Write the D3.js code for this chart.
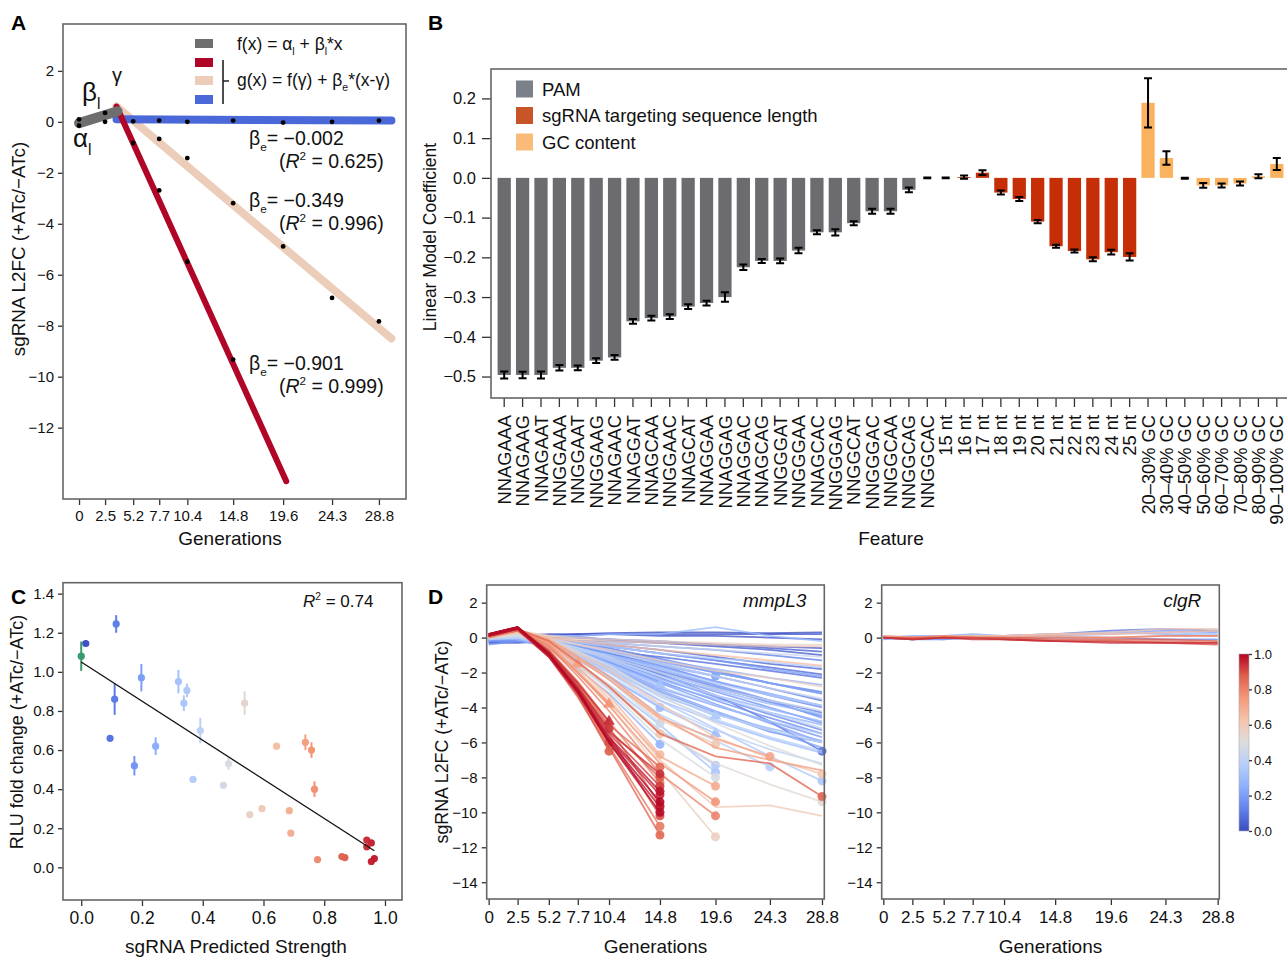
<!DOCTYPE html>
<html><head><meta charset="utf-8">
<script src="https://cdn.jsdelivr.net/npm/d3@7"></script>
<style>
body{margin:0;background:#fff}
svg{font-family:"Liberation Sans",Arial,sans-serif}
</style></head>
<body><svg id="fig" width="1287" height="957"></svg>
<script>
// ---- data ----
const generations = [0, 2.5, 5.2, 7.7, 10.4, 14.8, 19.6, 24.3, 28.8]

// A: example sgRNA fits
const fitDots = [[0,0.1],[0,-0.15],[2.5,0.35],[2.5,0.0],[5.2,0.02],[5.2,-0.83],[7.7,0.05],[7.7,-0.67],[7.7,-2.69],
  [10.4,0.0],[10.4,-1.42],[10.4,-5.49],[14.8,0.05],[14.8,-3.19],[14.8,-9.33],[19.6,-0.03],[19.6,-4.89],
  [24.3,0.0],[24.3,-6.91],[28.8,0.05],[28.8,-7.83]]
const lagFit = [[0,-0.05],[3.7,0.42]]
const strongFit = [[3.6,0.6],[19.9,-14.1]]
const mediumFit = [[3.6,0.6],[30.0,-8.5]]
const weakFit = [[3.6,0.1],[30.0,0.05]]
const fitSlopes = ["−0.002", "−0.349", "−0.901"]
const fitR2 = ["0.625", "0.996", "0.999"]

// B: linear model coefficients
const features = ["NNAGAAA","NNAGAAG","NNAGAAT","NNGGAAA","NNGGAAT","NNGGAAG","NNAGAAC","NNAGGAT","NNAGCAA","NNGGAAC",
  "NNAGCAT","NNAGGAA","NNAGGAG","NNAGGAC","NNAGCAG","NNGGGAT","NNGGGAA","NNAGCAC","NNGGGAG","NNGGCAT","NNGGGAC",
  "NNGGCAA","NNGGCAG","NNGGCAC","15 nt","16 nt","17 nt","18 nt","19 nt","20 nt","21 nt","22 nt","23 nt","24 nt","25 nt",
  "20–30% GC","30–40% GC","40–50% GC","50–60% GC","60–70% GC","70–80% GC","80–90% GC","90–100% GC"]
const coefficients = [-0.496,-0.496,-0.496,-0.478,-0.478,-0.46,-0.452,-0.361,-0.353,-0.349,-0.324,-0.315,-0.30,-0.225,
  -0.209,-0.209,-0.183,-0.137,-0.137,-0.114,-0.084,-0.084,-0.03,0.0,0.0,0.002,0.013,-0.037,-0.053,-0.11,-0.172,-0.184,
  -0.205,-0.187,-0.199,0.189,0.05,-0.001,-0.019,-0.019,-0.014,0.004,0.035]
const coefErrors = [0.009,0.008,0.009,0.007,0.006,0.006,0.006,0.006,0.006,0.006,0.006,0.006,0.012,0.007,0.005,0.006,0.007,
  0.005,0.008,0.005,0.006,0.006,0.006,0.001,0.001,0.004,0.006,0.005,0.005,0.004,0.004,0.004,0.005,0.006,0.009,
  0.062,0.017,0.001,0.006,0.005,0.005,0.005,0.015]
const featureGroups = ["PAM", "sgRNA targeting sequence length", "GC content"]

// C: luciferase validation
const predictedStrength = [0.0,0.015,0.115,0.11,0.095,0.198,0.175,0.245,0.32,0.338,0.348,0.368,0.392,0.468,0.485,0.538,
  0.555,0.595,0.643,0.685,0.69,0.738,0.758,0.768,0.778,0.858,0.868,0.94,0.955,0.94,0.955,0.965]
const rluFold = [1.08,1.145,1.245,0.86,0.66,0.97,0.52,0.62,0.95,0.84,0.905,0.45,0.70,0.42,0.53,0.84,
  0.27,0.30,0.62,0.29,0.175,0.64,0.60,0.40,0.04,0.055,0.05,0.14,0.125,0.105,0.03,0.045]
const rluError = [0.075,0,0.045,0.08,0,0.07,0.05,0.045,0.06,0.04,0.035,0,0.065,0,0.03,0.06,
  0,0,0,0,0,0.04,0.04,0.04,0,0,0,0,0,0,0,0]
const rluFitLine = [[0.0,1.05],[0.965,0.085]]

// D: time courses [predicted strength, end marker (0 none, 1 circle, 2 triangle), L2FC at each generation]
const mmpL3Guides = [
  [0.01,0, 0.0,0.0,0.1,0.2,0.25,0.3,0.3,0.25,0.3],
  [0.03,0, -0.1,-0.1,0.0,0.1,0.2,0.2,0.2,0.2,0.2],
  [0.02,0, 0.1,0.1,0.2,0.2,0.2,0.1,0.1,0.0,-0.1],
  [0.03,0, -0.3,-0.3,-0.2,-0.2,-0.2,-0.3,-0.4,-0.5,-0.6],
  [0.04,0, 0.0,0.0,0.1,0.0,-0.1,-0.3,-0.5,-0.7,-1.0],
  [0.05,0, 0.1,0.0,0.0,0.0,-0.1,-0.2,-0.4,-0.6,-0.8],
  [0.06,0, -0.2,-0.1,-0.1,-0.2,-0.4,-0.7,-1.1,-1.5,-1.8],
  [0.07,0, -0.3,-0.2,-0.2,-0.3,-0.5,-0.9,-1.3,-1.7,-2.1],
  [0.08,0, 0.0,-0.2,-0.3,-0.5,-0.8,-1.1,-1.5,-1.9,-2.3],
  [0.09,0, 0.0,-0.1,-0.2,-0.4,-0.7,-1.3,-2.0,-2.6,-3.2],
  [0.1,0, 0.0,-0.1,-0.2,-0.5,-0.9,-1.5,-2.2,-2.9,-3.6],
  [0.11,0, -0.2,-0.2,-0.4,-0.8,-1.2,-2.0,-2.9,-3.6,-4.3],
  [0.12,0, -0.1,0.0,-0.1,-0.3,-0.6,-1.2,-1.9,-2.6,-3.1],
  [0.13,0, 0.1,0.0,-0.1,-0.4,-0.8,-1.6,-2.5,-3.3,-4.0],
  [0.14,0, 0.0,-0.1,-0.3,-0.6,-1.0,-1.9,-2.8,-3.7,-4.5],
  [0.15,0, -0.1,-0.1,-0.3,-0.7,-1.2,-2.3,-3.4,-4.4,-5.3],
  [0.16,0, -0.2,-0.2,-0.4,-0.8,-1.4,-2.5,-3.6,-4.6,-5.5],
  [0.08,1, 0.0,0.1,-0.1,-0.5,-1.0,-2.1,-3.3,-4.8,-6.5],
  [0.17,0, 0.0,0.0,-0.2,-0.5,-0.9,-1.8,-2.7,-3.6,-4.6],
  [0.18,0, 0.1,0.0,-0.2,-0.6,-1.1,-2.1,-3.1,-4.0,-4.9],
  [0.19,0, -0.2,-0.1,-0.3,-0.9,-1.6,-2.9,-3.9,-4.8,-5.7],
  [0.2,0, 0.0,0.0,-0.1,-0.3,-0.5,-0.9,-1.3,-1.8,-2.2],
  [0.2,0, 0.0,-0.1,-0.3,-0.8,-1.4,-2.6,-3.8,-4.9,-6.0],
  [0.21,0, -0.1,-0.1,-0.4,-1.0,-1.7,-3.0,-4.2,-5.3,-6.3],
  [0.22,1, 0.0,0.0,-0.2,-0.6,-1.0,-1.6,-2.2,null,null],
  [0.23,0, 0.0,0.0,-0.2,-0.5,-0.8,-1.4,-2.0,-2.6,-3.2],
  [0.24,0, -0.1,-0.1,-0.3,-0.6,-1.0,-1.7,-2.5,-3.2,-3.9],
  [0.25,0, 0.0,0.0,-0.1,-0.4,-0.7,-1.3,-1.8,-2.3,-2.7],
  [0.26,0, 0.0,0.0,-0.3,-0.9,-1.5,-2.6,-3.5,-4.3,-5.0],
  [0.27,0, -0.1,0.0,-0.3,-0.8,-1.3,-2.4,-3.3,-4.1,-4.8],
  [0.12,0, 0.1,0.1,0.0,-0.2,-0.3,-0.5,-0.7,-1.0,-1.3],
  [0.18,0, -0.4,-0.2,-0.4,-1.0,-1.7,-3.1,-4.3,-5.4,-6.0],
  [0.28,0, 0.0,-0.1,-0.4,-1.1,-1.9,-3.3,-4.4,-5.2,-5.9],
  [0.29,0, 0.0,0.1,-0.2,-0.7,-1.2,-2.2,-3.0,-3.8,-4.4],
  [0.3,0, 0.0,0.0,0.1,0.1,0.2,0.2,0.6,0.1,-0.2],
  [0.31,0, 0.0,0.0,-0.4,-1.2,-2.0,-3.6,-4.8,-5.8,-6.6],
  [0.33,0, 0.1,0.1,-0.2,-0.8,-1.5,-2.8,-3.9,-4.8,-5.5],
  [0.35,0, 0.0,0.1,-0.2,-0.6,-1.0,-1.8,-2.6,-3.3,-3.9],
  [0.36,0, 0.0,0.0,-0.1,-0.3,-0.5,-0.9,-1.2,-1.4,-1.7],
  [0.37,0, 0.0,0.0,-0.3,-1.0,-1.8,-3.4,-4.7,-5.7,-6.5],
  [0.39,0, 0.0,0.1,-0.3,-1.1,-2.0,-3.9,-5.3,-6.4,-7.2],
  [0.41,0, 0.0,0.1,-0.2,-0.9,-1.7,-3.2,-4.4,-5.3,-6.0],
  [0.43,0, 0.1,0.2,-0.1,-0.6,-1.1,-2.0,-2.9,-3.6,-4.2],
  [0.44,0, 0.0,0.1,0.0,-0.2,-0.3,-0.5,-0.7,-0.9,-1.1],
  [0.3,1, 0.1,0.0,-0.3,-1.2,-2.2,-4.0,null,null,null],
  [0.32,2, 0.0,0.0,-0.2,-0.9,-1.6,-2.7,null,null,null],
  [0.27,1, 0.0,-0.1,-0.6,-1.8,-3.2,-6.1,null,null,null],
  [0.34,2, 0.0,0.0,-0.3,-1.0,-1.8,-3.2,-4.5,null,null],
  [0.3,2, -0.1,0.0,-0.4,-1.3,-2.3,-4.0,-5.5,null,null],
  [0.36,1, 0.0,0.0,-0.5,-1.6,-2.9,-5.3,-7.3,null,null],
  [0.33,1, 0.0,0.1,-0.4,-1.5,-2.7,-5.0,-7.7,null,null],
  [0.38,1, 0.1,0.1,-0.3,-1.2,-2.3,-4.4,-5.9,-7.4,null],
  [0.35,1, 0.0,0.0,-0.3,-1.0,-1.9,-3.6,-5.2,-6.8,-8.2],
  [0.4,0, -0.1,0.0,-0.2,-0.7,-1.2,-2.2,-3.3,-4.3,-5.2],
  [0.42,0, 0.0,0.1,-0.1,-0.4,-0.8,-1.5,-2.2,-2.9,-3.5],
  [0.45,1, 0.0,0.2,-0.2,-1.2,-2.4,-4.9,null,null,null],
  [0.48,1, 0.0,0.1,-0.4,-1.6,-3.0,-5.8,-8.0,null,null],
  [0.5,0, 0.0,0.2,-0.1,-0.8,-1.6,-3.3,-4.9,-6.2,-7.3],
  [0.52,1, 0.1,0.3,-0.2,-1.4,-2.7,-5.4,-7.2,-8.4,-9.4],
  [0.55,0, 0.1,0.3,0.1,0.0,-0.1,-0.2,-0.3,-0.4,-0.4],
  [0.6,0, 0.2,0.4,0.1,-0.1,-0.2,-0.3,-0.4,-0.5,-0.5],
  [0.64,0, 0.1,0.3,0.0,-0.2,-0.4,-0.7,-1.0,-1.3,-1.6],
  [0.58,0, 0.0,0.3,0.0,-0.4,-0.7,-1.3,-1.9,-2.3,-2.8],
  [0.62,1, 0.0,0.3,-0.3,-1.5,-2.8,-5.5,null,null,null],
  [0.66,1, 0.1,0.4,-0.3,-1.7,-3.3,-6.7,null,null,null],
  [0.6,1, 0.0,0.3,-0.2,-1.2,-2.4,-4.7,-6.1,null,null],
  [0.7,1, 0.1,0.4,-0.4,-1.9,-3.7,-6.8,-8.5,null,null],
  [0.76,1, 0.1,0.4,-0.4,-2.0,-3.9,-7.2,-9.4,null,null],
  [0.8,1, 0.1,0.5,-0.5,-2.2,-4.2,-7.8,-10.2,null,null],
  [0.57,1, 0.0,0.4,-0.4,-2.0,-3.8,-7.6,-11.4,null,null],
  [0.6,0, 0.0,0.3,-0.3,-1.7,-3.5,-7.0,-9.7,-9.6,-10.2],
  [0.72,1, 0.1,0.4,-0.2,-1.2,-2.4,-4.6,-5.8,-6.8,null],
  [0.86,1, 0.1,0.5,-0.2,-1.4,-2.8,-5.5,-6.8,-7.2,-9.1],
  [0.62,1, 0.0,0.3,-0.1,-0.9,-1.8,-3.8,-5.7,-6.9,-7.8],
  [0.74,0, 0.1,0.4,-0.1,-1.1,-2.2,-4.5,-6.3,-7.0,-7.6],
  [0.74,2, 0.1,0.5,-0.3,-1.5,null,null,null,null,null],
  [0.76,2, 0.1,0.5,-0.6,-2.0,-3.8,null,null,null,null],
  [0.95,2, 0.2,0.6,-0.8,-2.6,-4.8,null,null,null,null],
  [0.93,1, 0.1,0.5,-0.9,-2.9,-5.2,null,null,null,null],
  [0.9,1, 0.1,0.5,-1.0,-3.1,-6.0,null,null,null,null],
  [0.88,1, 0.1,0.5,-1.1,-3.3,-6.5,null,null,null,null],
  [0.85,1, 0.2,0.5,-0.7,-2.6,-5.0,-7.4,null,null,null],
  [0.88,1, 0.1,0.6,-0.8,-2.8,-5.3,-8.0,null,null,null],
  [0.92,1, 0.2,0.6,-0.9,-2.9,-5.5,-8.5,null,null,null],
  [0.95,1, 0.1,0.5,-1.0,-3.1,-5.8,-9.0,null,null,null],
  [1.0,1, 0.2,0.6,-0.9,-3.0,-5.9,-9.4,null,null,null],
  [0.97,1, 0.1,0.5,-1.1,-3.2,-6.0,-9.7,null,null,null],
  [0.9,1, 0.2,0.5,-0.8,-2.9,-5.6,-10.2,null,null,null],
  [0.82,1, 0.1,0.5,-1.0,-3.2,-6.2,-10.8,null,null,null],
  [0.86,1, 0.1,0.4,-1.1,-3.4,-6.3,-11.3,null,null,null],
  [0.94,1, 0.2,0.6,-0.9,-2.8,-5.4,-7.8,null,null,null],
  [0.98,1, 0.2,0.6,-1.0,-3.0,-5.7,-8.8,null,null,null],
  [0.99,1, 0.1,0.5,-1.0,-3.1,-6.0,-10.0,null,null,null],
  [0.8,1, 0.1,0.5,-0.7,-2.5,-4.8,-8.3,null,null,null],
  [0.84,1, 0.0,0.4,-0.8,-2.7,-5.1,-9.6,null,null,null]
]
const clgRGuides = [
  [0.1,0, 0.0,-0.1,0.0,0.1,0.1,0.2,0.4,0.5,0.4],
  [0.2,0, -0.1,0.0,-0.1,0.1,0.1,0.2,0.3,0.4,0.3],
  [0.3,0, 0.1,0.0,0.1,0.1,0.0,0.1,0.2,0.3,0.2],
  [0.25,0, 0.0,0.1,0.1,0.2,0.1,0.1,0.3,0.2,0.1],
  [0.15,0, 0.0,-0.1,-0.1,0.0,0.0,0.0,0.0,-0.1,-0.1],
  [0.6,0, 0.1,0.0,0.0,0.1,0.1,0.2,0.3,0.5,0.5],
  [0.65,0, 0.0,0.0,0.1,0.1,0.1,0.2,0.2,0.3,0.4],
  [0.7,0, 0.1,0.0,0.0,0.0,0.0,0.1,0.0,0.1,0.1],
  [0.8,0, 0.0,0.0,0.1,0.0,0.0,0.0,0.0,0.1,0.1],
  [0.88,0, 0.0,0.0,0.0,0.0,0.0,-0.1,-0.1,-0.1,-0.2],
  [0.85,0, 0.0,-0.1,0.0,0.0,-0.1,-0.2,-0.2,-0.2,-0.3],
  [0.9,0, 0.0,-0.1,0.0,0.0,-0.1,-0.2,-0.2,-0.3,-0.4],
  [0.95,0, 0.0,-0.1,0.0,-0.1,-0.1,-0.2,-0.3,-0.3,-0.3]
]

// ---- styles ----
const coolwarmStops = ["#3b4cc0","#6282ea","#8db0fe","#b7cff9","#dddddd","#f5c4ac","#f49a7b","#de604d","#b40426"]
const coolwarm = d3.scaleLinear().domain(d3.range(9).map(i => i / 8)).range(coolwarmStops).clamp(true)
const groupColors = ["#6b6b70", "#c52e06", "#fbb25e"]
const legendColors = ["#7b818b", "#c85528", "#fbbb78"]
const frameColor = "#666"

const svg = d3.select("#fig")

function rich(sel, x, y, size, parts) {
  const t = sel.append("text").attr("x", x).attr("y", y).attr("font-size", size).attr("fill", "#111")
  let shift = 0
  parts.forEach(([s, k]) => {
    const target = k === "sub" ? size * 0.3 : k === "sup" ? -size * 0.4 : 0
    const sp = t.append("tspan").text(s).attr("dy", target - shift)
    if (k === "sub" || k === "sup") sp.attr("font-size", size * 0.6)
    if (k === "i") sp.attr("font-style", "italic")
    shift = target
  })
  return t
}

function styleAxis(g, size) {
  g.select(".domain").remove()
  g.selectAll(".tick line").attr("stroke", "#333").attr("stroke-width", 1.3)
  g.selectAll(".tick text").attr("font-size", size).attr("fill", "#111").attr("font-family", "Liberation Sans, Arial, sans-serif")
}

function frame(x0, y0, x1, y1) {
  svg.append("rect").attr("x", x0).attr("y", y0).attr("width", x1 - x0).attr("height", y1 - y0)
    .attr("fill", "none").attr("stroke", frameColor).attr("stroke-width", 1.6)
}

function panelLetter(t, x, y) {
  svg.append("text").attr("x", x).attr("y", y).attr("font-size", 21).attr("font-weight", "bold").text(t)
}

function yLabel(t, x, y, size) {
  svg.append("text").attr("transform", `translate(${x},${y}) rotate(-90)`).attr("text-anchor", "middle")
    .attr("font-size", size).attr("dy", "0.35em").attr("fill", "#111").text(t)
}

function xLabel(t, x, y, size) {
  svg.append("text").attr("x", x).attr("y", y).attr("text-anchor", "middle").attr("font-size", size).attr("fill", "#111").text(t)
}

// ---- panel A ----
function drawPanelA() {
  const x = d3.scaleLinear().domain([-1.54, 31.4]).range([63, 406])
  const y = d3.scaleLinear().domain([-14.8, 3.84]).range([499, 24])
  const g = svg.append("g")
  const line = d3.line().x(d => x(d[0])).y(d => y(d[1]))

  const fits = [[mediumFit, "#ebcdb9", 8], [weakFit, "#4a68d8", 8], [strongFit, "#b00628", 6], [lagFit, "#6e6e6e", 10]]
  fits.forEach(([pts, c, w]) => {
    g.append("path").attr("d", line(pts)).attr("stroke", c).attr("stroke-width", w)
      .attr("stroke-linecap", "round").attr("fill", "none")
  })
  g.selectAll("circle.dot").data(fitDots).enter().append("circle")
    .attr("cx", d => x(d[0])).attr("cy", d => y(d[1])).attr("r", 2.4).attr("fill", "#000")

  frame(63, 24, 406, 499)
  g.append("g").attr("transform", "translate(63,0)")
    .call(d3.axisLeft(y).tickValues([2, 0, -2, -4, -6, -8, -10, -12]).tickSize(5).tickPadding(4))
    .call(a => styleAxis(a, 15))
  g.append("g").attr("transform", "translate(0,499)")
    .call(d3.axisBottom(x).tickValues(generations).tickFormat(d => String(d)).tickSize(6).tickPadding(5))
    .call(a => styleAxis(a, 15))

  // legend
  const fitColors = ["#6e6e6e", "#b00628", "#ebcdb9", "#4a68d8"]
  fitColors.forEach((c, i) => {
    g.append("rect").attr("x", 195).attr("y", [39, 58, 76, 95][i]).attr("width", 18).attr("height", 9).attr("fill", c)
  })
  g.append("path").attr("d", "M223,60V104M223,81H229").attr("stroke", "#222").attr("stroke-width", 1.6)
  rich(g, 237, 50, 17.5, [["f(x) = α", "n"], ["l", "sub"], [" + β", "n"], ["l", "sub"], ["*x", "n"]])
  rich(g, 237, 86, 17.5, [["g(x) = f(γ) + β", "n"], ["e", "sub"], ["*(x-γ)", "n"]])

  rich(g, 82, 101, 26, [["β", "n"], ["l", "sub"]])
  rich(g, 112, 82, 20, [["γ", "n"]])
  rich(g, 73, 147, 26, [["α", "n"], ["l", "sub"]])

  const baseY = [145, 207, 370]
  fitSlopes.forEach((s, i) => {
    rich(g, 249, baseY[i], 19.5, [["β", "n"], ["e", "sub"], ["= " + s, "n"]])
    rich(g, 279, baseY[i] + 23, 19.5, [["(", "n"], ["R", "i"], ["2", "sup"], [" = " + fitR2[i] + ")", "n"]])
  })

  yLabel("sgRNA L2FC (+ATc/−ATc)", 18, 249, 18.8)
  xLabel("Generations", 230, 545, 19)
  panelLetter("A", 11, 30)
}

// ---- panel B ----
function drawPanelB() {
  const x = d3.scaleBand().domain(features).range([495, 1286]).paddingInner(0.28).paddingOuter(0.14)
  const y = d3.scaleLinear().domain([-0.554, 0.274]).range([398, 69])
  const g = svg.append("g")
  const groupOf = f => f.endsWith("% GC") ? 2 : f.endsWith(" nt") ? 1 : 0
  const rows = features.map((f, i) => ({ f, v: coefficients[i], e: coefErrors[i], grp: groupOf(f) }))

  g.selectAll("rect.bar").data(rows).enter().append("rect")
    .attr("x", d => x(d.f)).attr("width", x.bandwidth())
    .attr("y", d => y(Math.max(0, d.v))).attr("height", d => Math.abs(y(d.v) - y(0)))
    .attr("fill", d => groupColors[d.grp])

  const cap = 4
  const eb = g.selectAll("g.err").data(rows).enter().append("g")
    .attr("transform", d => `translate(${x(d.f) + x.bandwidth() / 2},0)`)
  eb.append("path").attr("d", d => {
    const a = y(d.v - d.e), b = y(d.v + d.e)
    return `M0,${a}V${b}M${-cap},${a}H${cap}M${-cap},${b}H${cap}`
  }).attr("stroke", "#000").attr("stroke-width", 2).attr("fill", "none")

  svg.append("rect").attr("x", 491).attr("y", 69).attr("width", 810).attr("height", 329)
    .attr("fill", "none").attr("stroke", frameColor).attr("stroke-width", 1.6)

  g.append("g").attr("transform", "translate(491,0)")
    .call(d3.axisLeft(y).tickValues([0.2, 0.1, 0.0, -0.1, -0.2, -0.3, -0.4, -0.5]).tickFormat(d3.format(".1f")).tickSize(9).tickPadding(6))
    .call(a => styleAxis(a, 16.5))
  g.append("g").attr("transform", "translate(0,398)")
    .call(d3.axisBottom(x).tickSize(9))
    .call(a => styleAxis(a, 18.3))
    .call(a => a.selectAll(".tick text").attr("transform", "rotate(-90)").attr("text-anchor", "end")
      .attr("x", -17).attr("y", 0).attr("dy", "0.36em"))

  featureGroups.forEach((name, i) => {
    g.append("rect").attr("x", 516).attr("y", 80.5 + i * 26.5).attr("width", 17).attr("height", 17)
      .attr("fill", legendColors[i])
    g.append("text").attr("x", 542).attr("y", 95.5 + i * 26.5).attr("font-size", 18.5).attr("fill", "#111").text(name)
  })

  yLabel("Linear Model Coefficient", 430, 237, 17.5)
  xLabel("Feature", 891, 545, 19)
  panelLetter("B", 428, 30)
}

// ---- panel C ----
function drawPanelC() {
  const x = d3.scaleLinear().domain([-0.06, 1.056]).range([63, 402])
  const y = d3.scaleLinear().domain([-0.167, 1.456]).range([900, 582.7])
  const g = svg.append("g")
  const pts = predictedStrength.map((s, i) => ({ s, v: rluFold[i], e: rluError[i], c: i === 0 ? "#3a9a6c" : coolwarm(s) }))

  g.selectAll("line.err").data(pts.filter(d => d.e > 0)).enter().append("line")
    .attr("x1", d => x(d.s)).attr("x2", d => x(d.s)).attr("y1", d => y(d.v - d.e)).attr("y2", d => y(d.v + d.e))
    .attr("stroke", d => d.c).attr("stroke-width", 2)
  g.selectAll("circle").data(pts).enter().append("circle")
    .attr("cx", d => x(d.s)).attr("cy", d => y(d.v)).attr("r", 3.6).attr("fill", d => d.c)
  g.append("path").attr("d", d3.line().x(d => x(d[0])).y(d => y(d[1]))(rluFitLine))
    .attr("stroke", "#111").attr("stroke-width", 1.3).attr("fill", "none")

  frame(63, 582.7, 402, 900)
  g.append("g").attr("transform", "translate(63,0)")
    .call(d3.axisLeft(y).tickValues([0, 0.2, 0.4, 0.6, 0.8, 1.0, 1.2, 1.4]).tickFormat(d3.format(".1f")).tickSize(5).tickPadding(4))
    .call(a => styleAxis(a, 15))
  g.append("g").attr("transform", "translate(0,900)")
    .call(d3.axisBottom(x).tickValues([0, 0.2, 0.4, 0.6, 0.8, 1.0]).tickFormat(d3.format(".1f")).tickSize(6).tickPadding(6))
    .call(a => styleAxis(a, 17.5))

  rich(g, 303, 607, 17, [["R", "i"], ["2", "sup"], [" = 0.74", "n"]])
  yLabel("RLU fold change (+ATc/−ATc)", 17, 732, 18)
  xLabel("sgRNA Predicted Strength", 236, 953, 19)
  panelLetter("C", 11, 604)
}

// ---- panel D ----
function drawTimecourse(guides, x0, x1, domainX, gene, showYLabel) {
  const x = d3.scaleLinear().domain(domainX).range([x0, x1])
  const y = d3.scaleLinear().domain([-14.96, 3.01]).range([899, 585])
  const g = svg.append("g")
  const sorted = guides.slice().sort((a, b) => a[0] - b[0])
  const line = d3.line().defined(d => d[1] != null).x(d => x(d[0])).y(d => y(d[1]))

  sorted.forEach(row => {
    const s = row[0], marker = row[1]
    const pts = generations.map((t, i) => [t, row[i + 2]])
    const c = coolwarm(s)
    g.append("path").attr("d", line(pts)).attr("stroke", c).attr("stroke-width", 1.8)
      .attr("stroke-opacity", 0.78).attr("fill", "none")
    if (marker) {
      const last = pts.filter(p => p[1] != null).pop()
      const sym = d3.symbol().type(marker === 2 ? d3.symbolTriangle : d3.symbolCircle).size(marker === 2 ? 60 : 64)
      g.append("path").attr("d", sym()).attr("transform", `translate(${x(last[0])},${y(last[1])})`)
        .attr("fill", c).attr("fill-opacity", 0.9)
    }
  })

  frame(x0, 585, x1, 899)
  g.append("g").attr("transform", `translate(${x0},0)`)
    .call(d3.axisLeft(y).tickValues([2, 0, -2, -4, -6, -8, -10, -12, -14]).tickSize(5).tickPadding(4))
    .call(a => styleAxis(a, 15))
  g.append("g").attr("transform", "translate(0,899)")
    .call(d3.axisBottom(x).tickValues(generations).tickFormat(d => String(d)).tickSize(6).tickPadding(6))
    .call(a => styleAxis(a, 17))

  g.append("text").attr("x", x1 - 18).attr("y", 607).attr("text-anchor", "end").attr("font-size", 19)
    .attr("font-style", "italic").attr("fill", "#111").text(gene)
  xLabel("Generations", (x0 + x1) / 2, 953, 19)
  if (showYLabel) yLabel("sgRNA L2FC (+ATc/−ATc)", 442, 742, 17.8)
}

function drawColorbar() {
  const defs = svg.append("defs")
  const grad = defs.append("linearGradient").attr("id", "cw").attr("x1", 0).attr("y1", 1).attr("x2", 0).attr("y2", 0)
  coolwarmStops.forEach((c, i) => grad.append("stop").attr("offset", i / 8).attr("stop-color", c))
  svg.append("rect").attr("x", 1239).attr("y", 654).attr("width", 10).attr("height", 177)
    .attr("fill", "url(#cw)").attr("stroke", "#aaa").attr("stroke-width", 0.6)
  const s = d3.scaleLinear().domain([0, 1]).range([831, 654])
  svg.append("g").attr("transform", "translate(1249,0)")
    .call(d3.axisRight(s).tickValues([0, 0.2, 0.4, 0.6, 0.8, 1.0]).tickFormat(d3.format(".1f")).tickSize(3).tickPadding(2))
    .call(a => styleAxis(a, 13))
}

drawPanelA()
drawPanelB()
drawPanelC()
drawTimecourse(mmpL3Guides, 486.7, 824.3, [-0.17, 29.0], "mmpL3", true)
drawTimecourse(clgRGuides, 881.7, 1219.3, [-0.14, 28.94], "clgR", false)
drawColorbar()
panelLetter("D", 428, 604)
</script>
</body></html>
